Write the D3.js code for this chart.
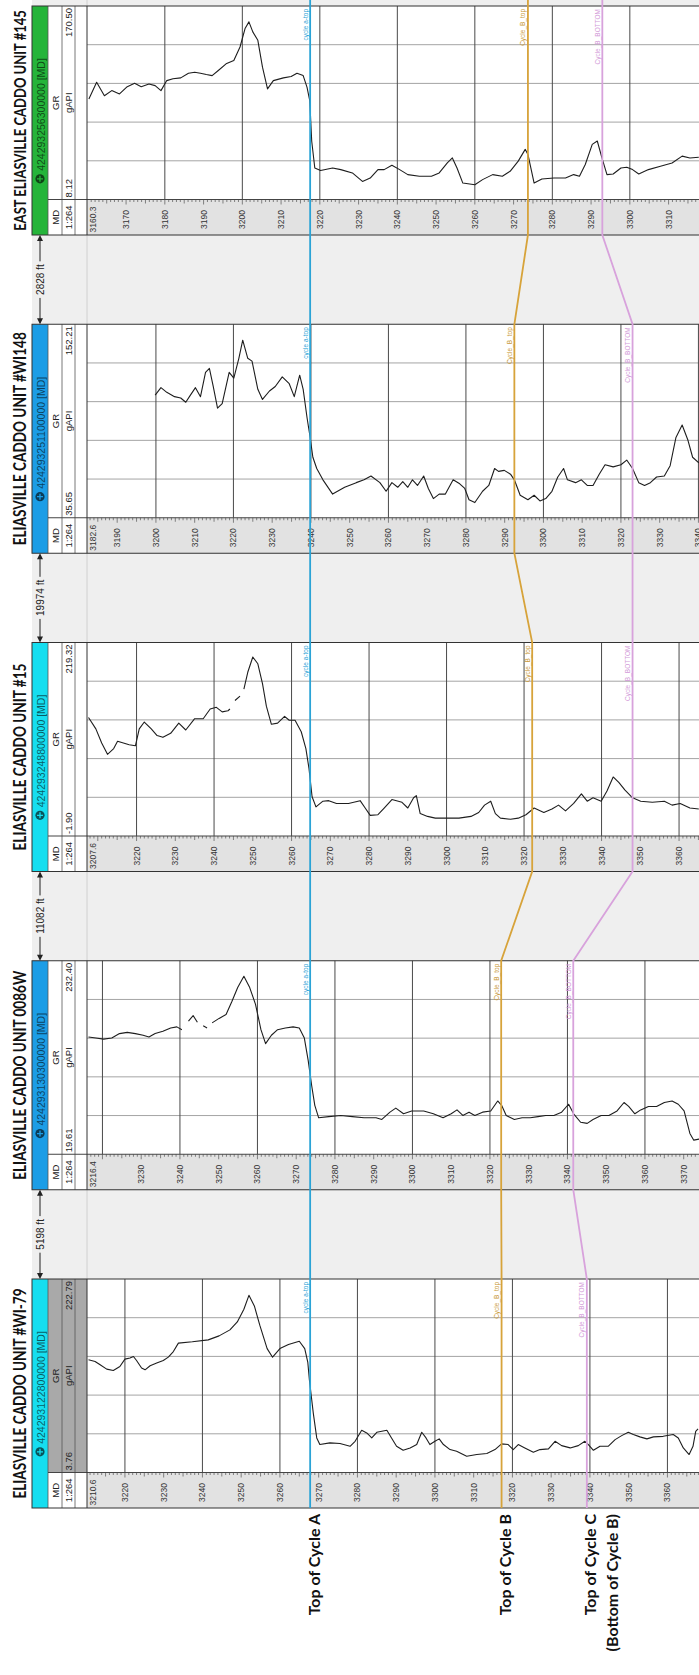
<!DOCTYPE html>
<html>
<head>
<meta charset="utf-8">
<script src="https://cdn.jsdelivr.net/npm/d3@7"></script>
<style>
  html, body { margin: 0; padding: 0; background: #fff; }
  svg { display: block; }
</style>
</head>
<body>
<svg id="chart" width="699" height="1675"></svg>
<script>
// ---- Wells, ordered west to east along the section ----
const wellNames = [
  "ELIASVILLE CADDO UNIT #WI-79",
  "ELIASVILLE CADDO UNIT 0086W",
  "ELIASVILLE CADDO UNIT #15",
  "ELIASVILLE CADDO UNIT #WI148",
  "EAST ELIASVILLE CADDO UNIT #145"
];
const wellUWI = ["424293122800000", "424293130300000", "424293248800000", "424293251100000", "424293256300000"];
const grMin = [3.76, 19.61, -1.90, 35.65, 8.12];
const grMax = [222.79, 232.40, 219.32, 152.21, 170.50];
const topDepth = [3210.6, 3216.4, 3207.6, 3182.6, 3160.3];
const wellSpacing = ["5198 ft", "11082 ft", "19974 ft", "2828 ft"];

// ---- Formation tops (MD, ft) per well ----
const cycleATop = [3267.8, 3273.6, 3264.8, 3239.8, 3217.5];
const cycleBTop = [3317.2, 3322.9, 3322.1, 3292.5, 3273.7];
const cycleBBottom = [3339.2, 3341.5, 3348.0, 3323.0, 3292.9];
const cycleLabels = [["Top of Cycle A"], ["Top of Cycle B"], ["Top of Cycle C", "(Bottom of Cycle B)"]];

// ---- Gamma ray logs: [MD ft, GR gAPI]; null marks missing samples ----
const grWI79 = [[3210.6,131.3],[3212.3,129.4],[3213.6,125.7],[3215.3,120.8],[3217.0,119.3],[3218.7,123.8],[3220.0,132.1],[3221.3,133.3],[3222.2,135.1],[3223.0,130.5],[3224.3,122.0],[3225.2,120.0],[3226.5,124.6],[3228.2,127.6],[3229.9,130.5],[3231.2,134.4],[3232.5,140.7],[3233.8,150.2],[3237.4,151.7],[3241.5,153.9],[3244.3,158.4],[3247.1,165.2],[3249.0,174.2],[3250.7,188.6],[3252.0,204.3],[3253.4,192.3],[3254.8,170.5],[3256.7,144.0],[3258.1,134.3],[3260.0,144.0],[3262.2,148.7],[3265.0,152.3],[3266.4,144.0],[3267.2,128.3],[3267.6,108.8],[3268.6,71.2],[3269.5,42.9],[3270.3,35.4],[3272.9,37.3],[3275.5,36.5],[3278.1,33.4],[3279.4,39.1],[3281.1,51.5],[3282.4,48.6],[3283.7,42.9],[3285.0,49.3],[3286.3,50.4],[3287.6,51.5],[3288.8,42.9],[3290.1,33.4],[3291.8,28.9],[3293.6,31.6],[3295.3,35.4],[3296.6,49.3],[3297.7,42.9],[3298.7,35.4],[3300.0,39.1],[3301.1,41.8],[3302.2,35.4],[3303.9,29.7],[3305.6,27.8],[3308.2,22.2],[3310.8,24.1],[3313.4,25.2],[3315.5,29.7],[3317.2,36.2],[3318.9,35.4],[3320.2,29.7],[3321.5,35.4],[3323.2,31.6],[3325.4,26.7],[3327.1,29.7],[3329.3,30.5],[3331.0,39.1],[3332.7,34.2],[3334.9,31.6],[3337.0,34.2],[3338.7,39.1],[3339.6,35.4],[3340.9,28.9],[3342.6,33.4],[3344.7,33.4],[3346.5,41.0],[3348.2,45.5],[3349.9,49.3],[3351.2,46.7],[3352.9,44.1],[3354.7,41.8],[3356.4,44.1],[3358.9,44.7],[3361.5,46.7],[3362.8,42.9],[3364.1,31.6],[3365.6,24.1],[3366.6,33.4],[3367.3,50.4],[3367.9,53.1]];

const gr0086W = [[3216.4,148.6],[3218.3,147.4],[3220.3,146.2],[3222.4,147.4],[3224.4,152.3],[3226.4,153.6],[3228.5,152.3],[3230.5,150.5],[3232.0,148.6],[3233.6,152.3],[3235.6,154.8],[3237.6,158.5],[3239.2,159.7],[3240.5,156.6],[3241.3,null],[3242.2,165.9],[3243.4,172.1],[3244.5,164.7],[3245.2,null],[3246.0,160.9],[3247.0,158.5],[3247.6,null],[3248.3,164.1],[3250.1,169.0],[3251.9,173.3],[3253.4,187.5],[3254.9,202.9],[3256.5,215.4],[3258.0,202.9],[3259.5,184.5],[3260.9,156.6],[3262.1,141.2],[3263.6,150.5],[3265.2,156.6],[3267.2,158.5],[3269.2,159.7],[3270.8,158.5],[3272.1,147.4],[3273.1,122.6],[3274.0,94.9],[3274.8,73.4],[3275.8,59.7],[3278.4,61.0],[3281.5,62.3],[3284.5,61.0],[3287.5,59.7],[3290.6,59.7],[3292.1,57.9],[3294.2,65.9],[3295.7,70.3],[3297.7,64.1],[3299.8,67.2],[3302.9,67.2],[3305.4,64.1],[3307.9,59.7],[3310.0,64.1],[3311.5,68.4],[3313.0,62.3],[3314.6,65.9],[3316.1,62.3],[3318.1,65.9],[3320.2,67.2],[3322.0,78.2],[3323.0,73.4],[3324.2,62.3],[3326.3,57.9],[3328.3,59.7],[3330.4,59.7],[3332.4,61.0],[3334.4,62.3],[3336.5,62.3],[3338.5,65.9],[3340.3,74.6],[3341.6,64.1],[3343.4,54.8],[3345.1,53.6],[3346.6,57.9],[3348.7,62.3],[3350.7,62.3],[3352.8,67.2],[3354.6,76.5],[3355.8,72.2],[3357.4,64.1],[3358.9,68.4],[3360.9,72.2],[3363.0,72.2],[3365.0,76.5],[3367.0,78.2],[3368.6,74.6],[3370.1,67.2],[3371.6,42.5],[3372.6,35.1],[3374.0,36.3]];

const gr15 = [[3207.6,133.6],[3209.5,120.6],[3211.0,104.4],[3212.5,91.5],[3214.1,98.0],[3215.1,106.4],[3216.6,104.4],[3218.1,102.5],[3219.7,101.2],[3220.7,120.6],[3222.0,128.4],[3223.8,120.6],[3225.3,112.9],[3226.8,110.9],[3228.8,115.5],[3230.9,127.1],[3232.7,119.3],[3235.0,132.2],[3237.2,132.2],[3239.0,143.3],[3240.6,145.2],[3242.1,140.0],[3243.6,141.3],[3244.1,143.3],[3244.8,null],[3245.4,153.0],[3246.7,158.1],[3247.2,null],[3247.7,165.9],[3248.7,185.3],[3250.0,202.7],[3251.3,195.0],[3252.5,172.3],[3253.5,146.5],[3254.8,125.8],[3256.4,127.1],[3258.2,134.9],[3259.4,130.4],[3260.9,130.4],[3262.5,117.3],[3263.7,98.0],[3264.5,75.3],[3265.3,43.0],[3266.3,31.4],[3268.1,37.9],[3269.6,38.5],[3271.6,35.3],[3274.7,35.3],[3277.7,38.5],[3279.0,30.1],[3280.3,21.7],[3282.3,22.4],[3283.9,30.1],[3285.9,39.8],[3288.5,36.6],[3290.0,30.1],[3291.5,41.8],[3292.2,44.3],[3293.2,23.7],[3295.1,20.5],[3297.1,18.5],[3300.2,18.5],[3303.2,18.5],[3306.3,20.5],[3308.3,25.0],[3309.8,33.4],[3311.4,37.9],[3312.6,23.7],[3313.9,18.5],[3316.5,17.2],[3318.5,18.5],[3320.5,22.4],[3322.6,30.1],[3325.1,25.0],[3327.2,28.9],[3328.9,33.4],[3330.7,26.9],[3332.8,35.3],[3334.8,46.3],[3336.3,37.9],[3337.8,41.8],[3339.9,37.9],[3341.4,49.5],[3343.0,65.6],[3344.5,59.2],[3346.0,50.8],[3348.0,41.8],[3350.1,37.9],[3353.1,36.6],[3356.2,37.9],[3358.2,33.4],[3360.3,35.3],[3362.8,30.1],[3365.1,28.9]];

const grWI148 = [[3199.8,109.5],[3201.3,114.0],[3202.8,111.2],[3204.8,108.6],[3206.4,107.8],[3207.7,105.2],[3208.9,109.5],[3210.2,114.0],[3211.5,108.6],[3212.8,123.2],[3213.8,125.6],[3214.8,114.7],[3215.9,101.7],[3217.1,104.4],[3218.9,123.2],[3220.1,119.8],[3221.4,131.7],[3222.4,142.6],[3223.7,131.7],[3224.8,130.0],[3226.3,113.0],[3227.5,106.9],[3229.3,112.0],[3230.8,114.7],[3232.6,120.5],[3234.4,116.4],[3235.7,108.6],[3237.1,121.5],[3238.0,113.0],[3239.0,95.9],[3239.8,84.0],[3240.5,72.1],[3241.5,65.3],[3243.1,58.5],[3245.6,49.9],[3248.7,54.0],[3251.7,56.8],[3253.7,58.5],[3255.5,60.8],[3257.8,56.8],[3259.4,51.6],[3260.9,56.8],[3262.4,54.0],[3263.7,57.4],[3265.0,54.0],[3266.2,58.5],[3267.5,55.1],[3269.1,60.8],[3270.3,53.3],[3271.6,47.2],[3273.1,49.9],[3274.7,49.9],[3276.7,58.5],[3278.4,56.1],[3279.7,53.3],[3280.8,46.5],[3282.3,44.8],[3284.3,51.6],[3285.9,55.1],[3287.4,65.3],[3288.4,63.6],[3289.9,64.2],[3291.5,61.9],[3292.5,58.5],[3294.0,49.2],[3296.0,46.5],[3297.6,49.2],[3299.1,45.8],[3300.6,47.2],[3302.2,51.6],[3303.7,60.2],[3305.2,65.3],[3306.2,58.5],[3308.3,56.8],[3309.8,58.5],[3311.3,55.1],[3312.8,55.1],[3314.4,61.9],[3315.9,67.6],[3318.0,66.3],[3320.0,67.6],[3321.5,70.4],[3323.0,65.3],[3324.6,56.8],[3326.1,55.1],[3327.6,56.8],[3329.2,60.2],[3331.2,60.8],[3332.7,67.0],[3334.2,84.0],[3335.8,91.5],[3337.3,82.3],[3338.5,72.1],[3340.1,68.7]];

const gr145 = [[3160.4,92.4],[3162.4,106.5],[3164.4,95.2],[3166.3,99.5],[3168.3,96.7],[3170.3,102.8],[3172.2,105.6],[3173.9,102.8],[3175.9,105.1],[3177.5,103.7],[3179.0,99.5],[3180.5,107.9],[3182.1,109.4],[3184.1,110.2],[3186.1,114.1],[3187.7,114.9],[3189.2,114.1],[3190.7,113.0],[3192.2,112.1],[3193.8,116.4],[3195.8,122.0],[3197.8,124.8],[3199.4,136.1],[3200.7,151.6],[3201.7,157.2],[3202.7,148.8],[3204.0,141.7],[3205.2,119.2],[3206.5,100.9],[3208.0,107.9],[3210.6,110.2],[3212.6,111.3],[3214.1,114.1],[3215.7,112.1],[3216.7,102.2],[3217.4,91.0],[3217.9,57.2],[3218.7,34.6],[3220.2,32.4],[3223.3,34.6],[3225.4,33.2],[3228.4,30.4],[3231.0,23.3],[3233.0,26.1],[3235.0,33.2],[3236.6,33.2],[3238.6,36.9],[3240.6,33.2],[3242.7,29.0],[3245.7,27.6],[3248.8,27.6],[3250.8,30.4],[3252.9,38.8],[3254.2,43.0],[3255.4,34.6],[3256.9,21.9],[3260.0,20.5],[3262.0,24.8],[3264.6,29.0],[3267.1,27.6],[3269.1,31.8],[3271.2,40.3],[3273.0,50.2],[3273.7,45.9],[3275.3,21.9],[3277.3,25.3],[3280.4,26.1],[3283.4,26.1],[3285.5,29.0],[3287.0,27.6],[3288.5,37.5],[3290.3,54.4],[3291.6,57.2],[3292.8,43.0],[3294.1,29.0],[3295.7,29.5],[3297.7,34.6],[3299.2,35.2],[3300.7,33.2],[3302.3,29.5],[3304.8,33.2],[3307.9,36.0],[3310.9,38.8],[3313.5,44.5],[3315.5,43.0],[3317.8,43.6]];

const grLogs = [grWI79, gr0086W, gr15, grWI148, gr145];

// ---- Styling ----
const headerColor = ["#16def0", "#1c9de6", "#16def0", "#1c9de6", "#25b43a"];
const markerStyle = [
  { label: "cycle a-top",    color: "#2aa3d6", text: "#2aa3d6" },
  { label: "Cycle_B_top",    color: "#d7a33a", text: "#c99a3a" },
  { label: "Cycle_B_BOTTOM", color: "#d8a2dc", text: "#d29ad8" }
];
const markerDepths = [cycleATop, cycleBTop, cycleBBottom];
const FONT_SMALL = "'Liberation Sans', Arial, sans-serif";
const FONT_BOLD = "Lato, 'Open Sans', sans-serif";

// ---- Layout of the section (drawn in the panel's own frame, then turned) ----
const W0 = 1675, H0 = 699;
const L = {
  firstStrip: 167, pitch: 318.25, stripW: 229, depthW: 35.5,
  titleV: 19, barTop: 32, row1: 48, row2: 62, row3: 75, trackTop: 87,
  depthOrigin: 88.5, pxPerFt: 3.875, arrowV: 40, labelRight: 161
};
const nWells = wellNames.length;
const stripLeft = i => L.firstStrip + i * L.pitch;
const depthScale = i => d3.scaleLinear()
  .domain([topDepth[i], topDepth[i] + (H0 - L.depthOrigin) / L.pxPerFt])
  .range([L.depthOrigin, H0]);

const svg = d3.select("#chart");
svg.append("rect").attr("width", 699).attr("height", 1675).attr("fill", "#fff");
const g = svg.append("g").attr("transform", `translate(0,${W0}) rotate(-90)`);
const defs = svg.append("defs");

// ---- Spacer panels between wells ----
for (let i = 0; i < nWells; i++) {
  const a = stripLeft(i) + L.stripW;
  const b = i < nWells - 1 ? stripLeft(i + 1) : W0;
  g.append("rect").attr("x", a).attr("y", L.barTop).attr("width", b - a).attr("height", H0 - L.barTop)
    .attr("fill", "#efefef");
  g.append("line").attr("x1", a).attr("x2", b).attr("y1", L.trackTop).attr("y2", L.trackTop)
    .attr("stroke", "#d0d0d0").attr("stroke-width", 1);
}

// ---- Well panels ----
const scales = [];
wellNames.forEach((name, i) => {
  const u0 = stripLeft(i), uD = u0 + L.depthW, u1 = u0 + L.stripW;
  const y = depthScale(i);
  const x = d3.scaleLinear().domain([grMin[i], grMax[i]]).range([uD, u1]);
  scales.push(y);
  const w = g.append("g");

  // title, set in a condensed bold face (horizontally squeezed to fit the strip)
  const tg = w.append("g");
  const t = tg.append("text").attr("x", 0).attr("y", 0)
    .attr("text-anchor", "middle").attr("dominant-baseline", "central")
    .attr("font-family", FONT_BOLD).attr("font-weight", 700).attr("font-size", 17)
    .attr("fill", "#111").text(name);
  const tl = t.node().getComputedTextLength();
  const sx = Math.min(0.8, (L.stripW - 8) / tl);
  tg.attr("transform", `translate(${(u0 + u1) / 2},${L.titleV}) scale(${sx},1)`);

  // header
  w.append("rect").attr("x", u0).attr("y", L.barTop).attr("width", L.stripW).attr("height", L.row1 - L.barTop)
    .attr("fill", headerColor[i]);
  w.append("rect").attr("x", u0).attr("y", L.row1).attr("width", L.stripW).attr("height", L.trackTop - L.row1)
    .attr("fill", "#fff");
  if (i === 0) {
    w.append("rect").attr("x", uD).attr("y", L.row1).attr("width", u1 - uD).attr("height", L.trackTop - L.row1)
      .attr("fill", "#a9a9a9");
  }
  const uwi = w.append("text").attr("x", (u0 + u1) / 2 + 6).attr("y", (L.barTop + L.row1) / 2 + 0.5)
    .attr("text-anchor", "middle").attr("dominant-baseline", "central")
    .attr("font-family", FONT_SMALL).attr("font-size", 10.5).attr("fill", "rgba(0,0,0,0.6)")
    .text(wellUWI[i] + " [MD]");
  const uwiLen = uwi.node().getComputedTextLength();
  const cx = (u0 + u1) / 2 + 6 - uwiLen / 2 - 8, cy = (L.barTop + L.row1) / 2;
  w.append("circle").attr("cx", cx).attr("cy", cy).attr("r", 4.6).attr("fill", "rgba(0,0,0,0.62)");
  w.append("path").attr("d", `M${cx - 3},${cy}H${cx + 3}M${cx},${cy - 3}V${cy + 3}`)
    .attr("stroke", headerColor[i]).attr("stroke-width", 1.3);

  const small = (txt, ux, vy, anchor) => w.append("text").attr("x", ux).attr("y", vy)
    .attr("text-anchor", anchor).attr("dominant-baseline", "central")
    .attr("font-family", FONT_SMALL).attr("font-size", 9.5).attr("fill", "#222").text(txt);
  const r1 = (L.row1 + L.row2) / 2, r2 = (L.row2 + L.row3) / 2;
  small("MD", u0 + L.depthW / 2, r1, "middle");
  small("1:264", u0 + L.depthW / 2, r2, "middle");
  small("GR", (uD + u1) / 2, r1, "middle");
  small("gAPI", (uD + u1) / 2, r2, "middle");
  small(grMin[i].toFixed(2), uD + 2, r2, "start");
  small(grMax[i].toFixed(2), u1 - 2, r2, "end");
  [L.row1, L.row2, L.row3].forEach(v => {
    w.append("line").attr("x1", u0).attr("x2", u1).attr("y1", v).attr("y2", v)
      .attr("stroke", "#555").attr("stroke-width", 0.8);
  });

  // depth column
  w.append("rect").attr("x", u0).attr("y", L.trackTop).attr("width", L.depthW).attr("height", H0 - L.trackTop)
    .attr("fill", "#e2e2e2");
  const dBottom = y.domain()[1];
  const ft = d3.range(Math.ceil(topDepth[i]), Math.floor(dBottom) + 1);
  w.append("g").selectAll("line").data(ft).join("line")
    .attr("x1", d => uD - (d % 10 === 0 ? 5 : d % 5 === 0 ? 4 : 2.5)).attr("x2", uD)
    .attr("y1", d => y(d)).attr("y2", d => y(d))
    .attr("stroke", "#555").attr("stroke-width", 0.7);
  // 10 ft labels, leaving room for the top-of-log reading
  w.append("g").selectAll("text").data(ft.filter(d => d % 10 === 0 && y(d) - L.depthOrigin > 20)).join("text")
    .attr("x", u0 + 15.5).attr("y", d => y(d))
    .attr("text-anchor", "middle").attr("dominant-baseline", "central")
    .attr("font-family", FONT_SMALL).attr("font-size", 8.5).attr("fill", "#333")
    .text(d => d);
  w.append("text").attr("x", u0 + 15.5).attr("y", L.depthOrigin + 4.5)
    .attr("text-anchor", "middle").attr("dominant-baseline", "central")
    .attr("font-family", FONT_SMALL).attr("font-size", 8.5).attr("fill", "#333")
    .text(topDepth[i].toFixed(1));

  // GR track grid
  const grid = w.append("g");
  grid.selectAll("line.v").data(d3.range(1, 5).map(k => grMin[i] + k * (grMax[i] - grMin[i]) / 5)).join("line")
    .attr("x1", d => x(d)).attr("x2", d => x(d)).attr("y1", L.trackTop).attr("y2", H0)
    .attr("stroke", "#a4a4a4").attr("stroke-width", 1);
  grid.selectAll("line.h").data(ft.filter(d => d % 20 === 0)).join("line")
    .attr("x1", uD).attr("x2", u1).attr("y1", d => y(d)).attr("y2", d => y(d))
    .attr("stroke", "#4a4a4a").attr("stroke-width", 1);

  // GR curve
  defs.append("clipPath").attr("id", "clip" + i).append("rect")
    .attr("x", uD).attr("y", L.trackTop).attr("width", u1 - uD).attr("height", H0 - L.trackTop);
  const line = d3.line().defined(d => d[1] != null).x(d => x(d[1])).y(d => y(d[0])).curve(d3.curveLinear);
  w.append("path").attr("clip-path", `url(#clip${i})`).attr("d", line(grLogs[i]))
    .attr("fill", "none").attr("stroke", "#1e1e1e").attr("stroke-width", 1.1).attr("stroke-linejoin", "round");

  // frames
  w.append("rect").attr("x", u0).attr("y", L.barTop).attr("width", L.stripW).attr("height", H0 - L.barTop + 2)
    .attr("fill", "none").attr("stroke", "#333").attr("stroke-width", 1);
  w.append("line").attr("x1", uD).attr("x2", uD).attr("y1", L.row1).attr("y2", H0)
    .attr("stroke", "#444").attr("stroke-width", 1);
  w.append("line").attr("x1", u0).attr("x2", u1).attr("y1", L.trackTop).attr("y2", L.trackTop)
    .attr("stroke", "#333").attr("stroke-width", 1);
});

// ---- Correlation lines (formation tops) ----
markerDepths.forEach((depths, m) => {
  const pts = [];
  depths.forEach((d, i) => {
    const v = scales[i](d);
    pts.push([stripLeft(i), v], [stripLeft(i) + L.stripW, v]);
  });
  pts.push([W0, pts[pts.length - 1][1]]);
  g.append("path").attr("d", d3.line()(pts)).attr("fill", "none")
    .attr("stroke", markerStyle[m].color).attr("stroke-width", 1.8);
  depths.forEach((d, i) => {
    g.append("text").attr("x", stripLeft(i) + L.stripW - 3).attr("y", scales[i](d) - 2.5)
      .attr("text-anchor", "end").attr("font-family", FONT_SMALL).attr("font-size", 6.5)
      .attr("fill", markerStyle[m].text).text(markerStyle[m].label);
  });
});

// ---- Well-to-well distances ----
wellSpacing.forEach((txt, i) => {
  const a = stripLeft(i) + L.stripW, b = stripLeft(i + 1), v = L.arrowV, mid = (a + b) / 2;
  g.append("line").attr("x1", a + 2).attr("x2", b - 2).attr("y1", v).attr("y2", v)
    .attr("stroke", "#222").attr("stroke-width", 1);
  g.append("path").attr("d", `M${a},${v}L${a + 6},${v - 3}L${a + 6},${v + 3}Z M${b},${v}L${b - 6},${v - 3}L${b - 6},${v + 3}Z`)
    .attr("fill", "#222");
  const t = g.append("text").attr("x", mid).attr("y", v).attr("text-anchor", "middle")
    .attr("dominant-baseline", "central").attr("font-family", FONT_SMALL).attr("font-size", 10)
    .attr("fill", "#222").text(txt);
  const len = t.node().getComputedTextLength();
  g.insert("rect", () => t.node()).attr("x", mid - len / 2 - 3).attr("y", v - 6)
    .attr("width", len + 6).attr("height", 12).attr("fill", "#efefef");
});

// ---- Cycle annotations beside the first well ----
cycleLabels.forEach((lines, m) => {
  const v = scales[0](markerDepths[m][0]) + 3;
  lines.forEach((s, k) => {
    g.append("text").attr("x", L.labelRight).attr("y", v + k * 22)
      .attr("text-anchor", "end").attr("dominant-baseline", "central")
      .attr("font-family", FONT_BOLD).attr("font-weight", 700).attr("font-size", 16)
      .attr("fill", "#111").text(s);
  });
});
</script>
</body>
</html>
